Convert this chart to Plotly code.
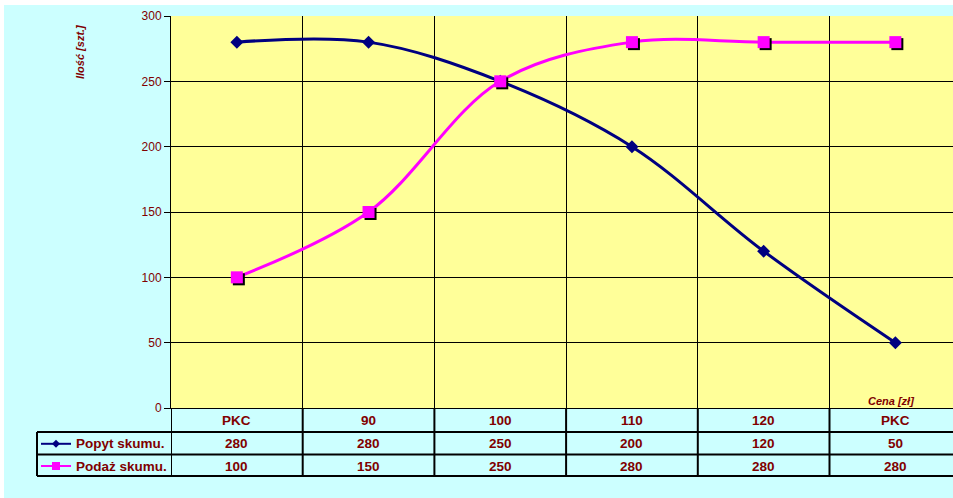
import plotly.graph_objects as go

# ---- data -------------------------------------------------------------
categories = ["PKC", "90", "100", "110", "120", "PKC"]
popyt = [280, 280, 250, 200, 120, 50]
podaz = [100, 150, 250, 280, 280, 280]
series_names = ["Popyt skumu.", "Podaż skumu."]
y_ticks = [0, 50, 100, 150, 200, 250, 300]
y_title = "Ilość [szt.]"
x_title = "Cena [zł]"

# ---- styling / geometry -----------------------------------------------
FIG_W, FIG_H = 953, 498
M_L, M_T, M_R, M_B = 171, 16, 0, 90
PLOT_W = FIG_W - M_L - M_R
PLOT_H = FIG_H - M_T - M_B
CAT_W = 131.7                      # pixel width of one category column
X_RANGE = [-0.5, PLOT_W / CAT_W - 0.5]
Y_RANGE = [0, 300]
SHADOW = 2                         # marker drop-shadow offset in px

BG = "#CCFFFF"
PLOT_BG = "#FFFF99"
NAVY = "#000080"
MAGENTA = "#FF00FF"
TEXT = "#800000"
FONT = "Liberation Sans, Arial, sans-serif"


def px_x(px):
    return (px - M_L) / PLOT_W


def px_y(py):
    return 1 - (py - M_T) / PLOT_H


xs = list(range(len(categories)))
# name, values, colour, marker symbol, marker size, drop shadow
series = [
    (series_names[0], popyt, NAVY, "diamond", 10, False),
    (series_names[1], podaz, MAGENTA, "square", 12, True),
]

fig = go.Figure()

# smoothed lines on the main axes
for name, vals, color, sym, size, shadow in series:
    fig.add_trace(go.Scatter(
        x=xs, y=vals, name=name, mode="lines",
        line=dict(color=color, width=3, shape="spline", smoothing=1),
        xaxis="x", yaxis="y", hoverinfo="skip", showlegend=False))

# marker shadows on axes shifted a few pixels right/down
for name, vals, color, sym, size, shadow in series:
    if shadow:
        fig.add_trace(go.Scatter(
            x=xs, y=vals, mode="markers",
            marker=dict(symbol=sym, size=size, color="black", line=dict(width=0)),
            xaxis="x2", yaxis="y2", hoverinfo="skip", showlegend=False))

# markers
for name, vals, color, sym, size, shadow in series:
    fig.add_trace(go.Scatter(
        x=xs, y=vals, name=name, mode="markers",
        marker=dict(symbol=sym, size=size, color=color, line=dict(width=0)),
        xaxis="x3", yaxis="y3", showlegend=False))

shapes = []
# plot area fill (under the grid)
shapes.append(dict(type="rect", xref="paper", yref="paper", x0=0, x1=1, y0=0, y1=1,
                   fillcolor=PLOT_BG, line=dict(width=0), layer="below"))
# thin white border along the top and left edge of the page
shapes.append(dict(type="rect", xref="paper", yref="paper",
                   x0=px_x(0), x1=px_x(FIG_W), y0=px_y(5), y1=px_y(0),
                   fillcolor="white", line=dict(width=0), layer="below"))
shapes.append(dict(type="rect", xref="paper", yref="paper",
                   x0=px_x(0), x1=px_x(4), y0=px_y(FIG_H), y1=px_y(0),
                   fillcolor="white", line=dict(width=0), layer="below"))

# ---- data table under the chart ---------------------------------------
TABLE_TOP = 408
ROW_LINES = [432, 454.5, 476]
ROW_CENTERS = [420.5, 443.8, 466]
LEG_LEFT = 37
tline = dict(color="black", width=2)

for py in ROW_LINES:
    shapes.append(dict(type="line", xref="paper", yref="paper",
                       x0=px_x(LEG_LEFT), x1=1, y0=px_y(py), y1=px_y(py), line=tline))
# column separators (category boundaries) through the table
for i in range(len(categories)):
    shapes.append(dict(type="line", xref="x", yref="paper",
                       x0=i - 0.5, x1=i - 0.5, y0=px_y(TABLE_TOP), y1=px_y(ROW_LINES[-1]),
                       line=tline))
shapes.append(dict(type="line", xref="paper", yref="paper",
                   x0=px_x(LEG_LEFT), x1=px_x(LEG_LEFT),
                   y0=px_y(ROW_LINES[0]), y1=px_y(ROW_LINES[-1]), line=tline))

annotations = []
cell_font = dict(family=FONT, size=13.5, color=TEXT)
for i, cat in enumerate(categories):
    annotations.append(dict(text=f"<b>{cat}</b>", xref="x", yref="paper", x=i,
                            y=px_y(ROW_CENTERS[0]), showarrow=False, font=cell_font,
                            xanchor="center", yanchor="middle"))
for r, (name, vals, color, sym, size, shadow) in enumerate(series):
    yc = ROW_CENTERS[r + 1]
    for i, v in enumerate(vals):
        annotations.append(dict(text=f"<b>{v}</b>", xref="x", yref="paper", x=i,
                                y=px_y(yc), showarrow=False, font=cell_font,
                                xanchor="center", yanchor="middle"))
    # legend key: short line with a small marker
    shapes.append(dict(type="line", xref="paper", yref="paper",
                       x0=px_x(41), x1=px_x(71), y0=px_y(yc), y1=px_y(yc),
                       line=dict(color=color, width=2)))
    cx, h = 56, 4
    if sym == "diamond":
        pts = [(cx - h, yc), (cx, yc - h), (cx + h, yc), (cx, yc + h)]
    else:
        pts = [(cx - h, yc - h), (cx + h, yc - h), (cx + h, yc + h), (cx - h, yc + h)]
    path = "M " + " L ".join(f"{px_x(a):.5f},{px_y(b):.5f}" for a, b in pts) + " Z"
    shapes.append(dict(type="path", xref="paper", yref="paper", path=path,
                       fillcolor=color, line=dict(width=0)))
    annotations.append(dict(text=f"<b>{name}</b>", xref="paper", yref="paper",
                            x=px_x(74), y=px_y(yc), showarrow=False, font=cell_font,
                            xanchor="left", yanchor="middle"))

# axis titles
title_font = dict(family=FONT, size=11, color=TEXT)
annotations.append(dict(text=f"<b><i>{y_title}</i></b>", xref="paper", yref="paper",
                        x=px_x(80), y=px_y(52), textangle=-90, showarrow=False,
                        font=title_font, xanchor="center", yanchor="middle"))
annotations.append(dict(text=f"<b><i>{x_title}</i></b>", xref="paper", yref="paper",
                        x=px_x(891), y=px_y(400.5), showarrow=False,
                        font=title_font, xanchor="center", yanchor="middle"))

hidden = dict(visible=False, showgrid=False, zeroline=False, fixedrange=True)

fig.update_layout(
    width=FIG_W, height=FIG_H,
    margin=dict(l=M_L, r=M_R, t=M_T, b=M_B, pad=0),
    paper_bgcolor=BG,
    plot_bgcolor="rgba(0,0,0,0)",
    showlegend=False,
    hovermode="closest",
    font=dict(family=FONT, color=TEXT, size=12),
    xaxis=dict(domain=[0, 1], range=X_RANGE, tickmode="array",
               tickvals=[i + 0.5 for i in range(len(categories) - 1)],
               showticklabels=False, ticks="", showgrid=True,
               gridcolor="black", gridwidth=1, zeroline=False,
               showline=True, linecolor="black", linewidth=1, fixedrange=True),
    yaxis=dict(domain=[0, 1], range=Y_RANGE, tickmode="array", tickvals=y_ticks,
               ticks="outside", ticklen=6, tickcolor="black", tickwidth=1,
               showgrid=True, gridcolor="black", gridwidth=1, zeroline=False,
               showline=True, linecolor="black", linewidth=1,
               tickfont=dict(family=FONT, size=12, color=TEXT), fixedrange=True),
    xaxis2=dict(domain=[SHADOW / PLOT_W, 1],
                range=[X_RANGE[0], X_RANGE[1] - SHADOW / CAT_W], anchor="y2", **hidden),
    yaxis2=dict(domain=[0, 1 - SHADOW / PLOT_H],
                range=[Y_RANGE[0] + SHADOW * (Y_RANGE[1] - Y_RANGE[0]) / PLOT_H, Y_RANGE[1]],
                anchor="x2", **hidden),
    xaxis3=dict(domain=[0, 1], range=X_RANGE, anchor="y3", **hidden),
    yaxis3=dict(domain=[0, 1], range=Y_RANGE, anchor="x3", **hidden),
    shapes=shapes,
    annotations=annotations,
)

fig.write_html("out.html")
